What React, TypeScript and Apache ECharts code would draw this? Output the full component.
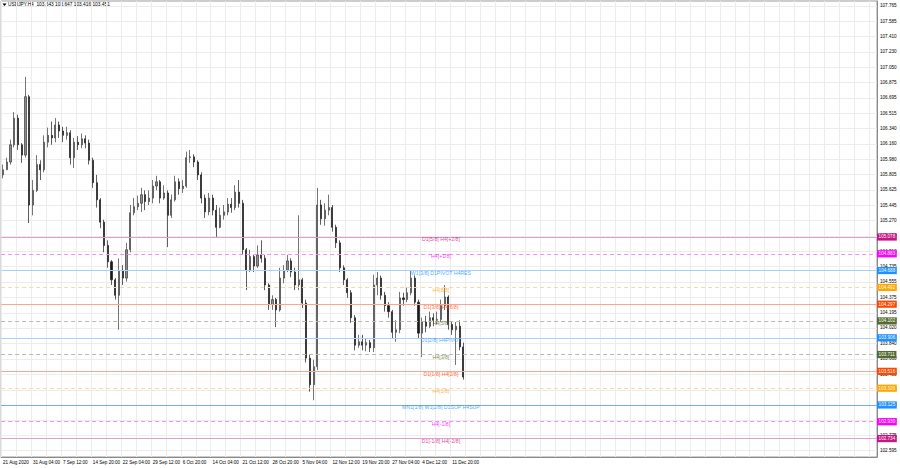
import React, { useEffect, useRef } from "react";
import * as echarts from "echarts";

const symbolTitle = "USDJPY,H4";
const lastBar = [103.643, 103.647, 103.416, 103.451];

const timeLabels = [
  "21 Aug 2020", "31 Aug 04:00", "7 Sep 12:00", "14 Sep 20:00", "22 Sep 04:00",
  "29 Sep 12:00", "6 Oct 20:00", "14 Oct 04:00", "21 Oct 12:00", "28 Oct 20:00",
  "5 Nov 04:00", "12 Nov 12:00", "19 Nov 20:00", "27 Nov 04:00", "4 Dec 12:00", "11 Dec 20:00",
];

const openP = [
  105.80, 105.86, 105.95, 106.15, 106.46, 106.15, 106.03, 106.71, 105.45, 105.62,
  105.92, 105.86, 106.18, 106.26, 106.23, 106.38, 106.31, 106.26, 106.29, 106.00,
  106.18, 106.15, 106.22, 106.17, 105.97, 105.71, 105.51, 105.25, 104.98, 104.79,
  104.58, 104.40, 104.69, 104.60, 104.93, 105.36, 105.43, 105.47, 105.57, 105.49,
  105.53, 105.67, 105.72, 105.53, 105.59, 105.33, 105.51, 105.72, 105.64, 105.67,
  106.00, 106.01, 105.95, 105.80, 105.53, 105.37, 105.53, 105.39, 105.19, 105.33,
  105.37, 105.46, 105.42, 105.60, 105.47, 104.93, 104.69, 104.85, 104.74, 104.87,
  104.83, 104.52, 104.29, 104.35, 104.23, 104.60, 104.69, 104.80, 104.67, 104.52,
  104.58, 104.31, 103.67, 103.36, 103.57, 105.45, 105.29, 105.39, 105.42, 105.19,
  105.01, 104.72, 104.58, 104.43, 104.14, 103.82, 103.86, 103.82, 103.85, 103.79,
  104.52, 104.60, 104.40, 104.28, 104.21, 103.97, 104.00, 104.37, 104.35, 104.43,
  104.60, 104.32, 103.96, 104.09, 104.04, 104.14, 104.11, 104.12, 104.28, 104.38,
  104.06, 104.00, 104.04, 103.80,
];
const closeP = [
  105.86, 105.95, 106.15, 106.46, 106.15, 106.03, 106.71, 105.45, 105.62, 105.92,
  105.86, 106.18, 106.26, 106.23, 106.38, 106.31, 106.26, 106.29, 106.00, 106.18,
  106.15, 106.22, 106.17, 105.97, 105.71, 105.51, 105.25, 104.98, 104.79, 104.58,
  104.40, 104.69, 104.60, 104.93, 105.36, 105.43, 105.47, 105.57, 105.49, 105.53,
  105.67, 105.72, 105.53, 105.59, 105.33, 105.51, 105.72, 105.64, 105.67, 106.00,
  106.01, 105.95, 105.80, 105.53, 105.37, 105.53, 105.39, 105.19, 105.33, 105.37,
  105.46, 105.42, 105.60, 105.47, 104.93, 104.69, 104.85, 104.74, 104.87, 104.83,
  104.52, 104.29, 104.35, 104.23, 104.60, 104.69, 104.80, 104.67, 104.52, 104.58,
  104.31, 103.67, 103.36, 103.57, 105.45, 105.29, 105.39, 105.42, 105.19, 105.01,
  104.72, 104.58, 104.43, 104.14, 103.82, 103.86, 103.82, 103.85, 103.79, 104.52,
  104.60, 104.40, 104.28, 104.21, 103.97, 104.00, 104.37, 104.35, 104.43, 104.60,
  104.32, 103.96, 104.09, 104.04, 104.14, 104.11, 104.12, 104.28, 104.38, 104.06,
  104.00, 104.04, 103.80, 103.45,
];
const lowP = [
  105.76, 105.86, 105.92, 106.12, 106.09, 105.94, 106.00, 105.24, 105.33, 105.60,
  105.74, 105.83, 106.12, 106.15, 106.18, 106.23, 106.18, 106.21, 105.92, 105.88,
  106.09, 106.11, 106.11, 105.92, 105.65, 105.42, 105.18, 104.90, 104.72, 104.52,
  104.35, 104.00, 104.52, 104.56, 104.90, 105.33, 105.39, 105.37, 105.39, 105.45,
  105.47, 105.62, 105.47, 105.51, 104.96, 105.30, 105.49, 105.57, 105.59, 105.65,
  105.94, 105.89, 105.74, 105.47, 105.30, 105.33, 105.33, 105.08, 105.18, 105.28,
  105.33, 105.36, 105.39, 105.42, 104.87, 104.46, 104.67, 104.67, 104.72, 104.78,
  104.46, 104.23, 104.23, 104.03, 104.21, 104.54, 104.67, 104.61, 104.46, 104.46,
  104.25, 103.62, 103.28, 103.18, 103.53, 105.22, 105.21, 105.33, 105.14, 104.95,
  104.67, 104.52, 104.37, 104.08, 103.76, 103.79, 103.76, 103.75, 103.74, 103.74,
  104.40, 104.35, 104.21, 104.14, 103.90, 103.86, 103.96, 104.28, 104.32, 104.40,
  104.28, 103.90, 103.68, 103.97, 104.02, 104.04, 104.06, 104.09, 104.23, 104.00,
  103.94, 103.59, 103.76, 103.42,
];
const highP = [
  105.92, 106.00, 106.21, 106.53, 106.50, 106.17, 106.94, 106.73, 105.74, 106.03,
  105.97, 106.26, 106.35, 106.42, 106.46, 106.42, 106.36, 106.36, 106.32, 106.23,
  106.25, 106.28, 106.26, 106.21, 106.00, 105.80, 105.53, 105.28, 105.04, 104.81,
  104.60, 104.83, 104.75, 105.01, 105.45, 105.53, 105.56, 105.65, 105.62, 105.62,
  105.74, 105.79, 105.74, 105.68, 105.62, 105.57, 105.79, 105.76, 105.74, 106.07,
  106.09, 106.04, 105.97, 105.83, 105.57, 105.59, 105.57, 105.45, 105.42, 105.45,
  105.53, 105.53, 105.68, 105.74, 105.51, 104.95, 104.93, 104.87, 104.98, 105.04,
  104.87, 104.54, 104.40, 104.37, 104.72, 104.75, 104.87, 104.83, 104.72, 105.33,
  104.60, 104.35, 103.71, 103.65, 105.65, 105.51, 105.47, 105.57, 105.45, 105.22,
  105.04, 104.75, 104.60, 104.46, 104.17, 103.94, 103.94, 103.90, 103.88, 104.64,
  104.67, 104.63, 104.44, 104.32, 104.23, 104.11, 104.44, 104.43, 104.49, 104.69,
  104.63, 104.35, 104.14, 104.16, 104.21, 104.19, 104.21, 104.35, 104.52, 104.40,
  104.09, 104.09, 104.11, 103.85,
];

const priceTicks = [
  107.765, 107.585, 107.41, 107.23, 107.05, 106.875, 106.695, 106.515, 106.34, 106.16,
  105.98, 105.805, 105.625, 105.445, 105.27, 105.09, 104.91, 104.735, 104.555, 104.375,
  104.195, 104.02, 103.84, 103.66, 103.48, 103.3, 103.125, 102.95, 102.775, 102.595,
];

const levelValues = [
  105.078, 104.883, 104.688, 104.492, 104.297, 104.102, 103.906,
  103.711, 103.516, 103.32, 103.125, 102.93, 102.734,
];
const levelNames = [
  "D1[5/8] H4[+2/8]", "H4[+1/8]", "W1[3/8] D1PIVOT H4RES", "H4[8/8]", "D1[3/8] H4[6/8]",
  "H4[5/8]", "D1[2/8] H4PIVOT", "H4[3/8]", "D1[1/8] H4[2/8]", "H4[1/8]",
  "MN1[1/8] W1[2/8] D1SUP H4SUP", "H4[-1/8]", "D1[-1/8] H4[-2/8]",
];
const levelColors = [
  "#c71585", "#ff00ff", "#1e90ff", "#ffa500", "#ff4500", "#556b2f", "#1e90ff",
  "#556b2f", "#ff4500", "#ffa500", "#1e90ff", "#ff00ff", "#c71585",
];
const levelLineColors = [
  "#e0a0cc", "#f090f0", "#a8d0f8", "#f8d8a8", "#f8a890", "#b8bca8", "#a8d0f8",
  "#b8bca8", "#f8a890", "#f8d8a8", "#70b0f0", "#f090f0", "#e0a0cc",
];
const levelDashed = [false, true, false, true, false, true, false, true, false, true, false, true, false];
const lastPrice = 103.451;

const TOTAL_SLOTS = 234;
const LABEL_EVERY = 8;
const LEVEL_TEXT_SLOT = 117;

export default function App() {
  const ref = useRef<HTMLDivElement>(null);

  useEffect(() => {
    if (!ref.current) return;
    const chart = echarts.init(ref.current, undefined, { renderer: "svg" });

    const categories: string[] = [];
    for (let i = 0; i < TOTAL_SLOTS; i++) {
      const k = i / LABEL_EVERY;
      categories.push(i % LABEL_EVERY === 0 && k < timeLabels.length ? timeLabels[k] : "s" + i);
    }
    const candles = openP.map((o, i) => [o, closeP[i], lowP[i], highP[i]]);

    const font = "Arial, 'Liberation Sans', sans-serif";

    const boxLabel = (text: string, bg: string) => ({
      show: true,
      position: "end",
      distance: 0,
      formatter: text,
      backgroundColor: bg,
      color: "#ffffff",
      fontSize: 4.6,
      fontFamily: font,
      padding: [1.2, 1.6, 1, 1.6],
    });

    const markData: any[] = levelValues.map((v, i) => ({
      yAxis: v,
      lineStyle: {
        color: levelLineColors[i],
        type: levelDashed[i] ? [4, 3] : "solid",
        width: 1,
        opacity: 1,
      },
      label: boxLabel(v.toFixed(3), levelColors[i]),
    }));
    markData.push({
      yAxis: lastPrice,
      lineStyle: { opacity: 0 },
      label: boxLabel(lastPrice.toFixed(3), "#000000"),
    });

    const option: any = {
      animation: false,
      backgroundColor: "#ffffff",
      grid: {
        left: 1,
        right: 23,
        top: 1,
        bottom: 11,
        show: true,
        borderColor: "#9a9a9a",
        borderWidth: 1,
      },
      xAxis: {
        type: "category",
        data: categories,
        boundaryGap: true,
        axisLine: { show: true, lineStyle: { color: "#8a8a8a", width: 1 } },
        axisTick: { show: false },
        axisLabel: {
          interval: (idx: number) => idx % LABEL_EVERY === 0 && idx / LABEL_EVERY < timeLabels.length,
          align: "left",
          fontSize: 4.6,
          fontFamily: font,
          color: "#000000",
          margin: 3,
        },
        splitLine: {
          show: true,
          interval: (idx: number) => idx % 4 === 0,
          lineStyle: { color: "#ececec", width: 1 },
        },
      },
      yAxis: {
        type: "value",
        position: "right",
        min: 102.52,
        max: 107.822,
        axisLine: { show: true, lineStyle: { color: "#8a8a8a", width: 1 } },
        axisTick: { show: false, customValues: priceTicks },
        axisLabel: {
          customValues: priceTicks,
          formatter: (v: number) => v.toFixed(3),
          fontSize: 4.6,
          fontFamily: font,
          color: "#000000",
          margin: 3,
        },
        splitLine: { show: true, lineStyle: { color: "#ececec", width: 1 } },
      },
      graphic: [
        {
          type: "polygon",
          shape: { points: [[2.5, 3.5], [6.5, 3.5], [4.5, 6]] },
          style: { fill: "#000000" },
        },
        {
          type: "text",
          left: 8,
          top: 2.3,
          style: {
            text: symbolTitle + "  " + lastBar.map((v) => v.toFixed(3)).join(" "),
            fontSize: 4.8,
            fontFamily: font,
            fill: "#000000",
          },
        },
      ],
      series: [
        {
          type: "candlestick",
          data: candles,
          barWidth: 1.6,
          itemStyle: {
            color: "#8c8c8c",
            color0: "#1a1a1a",
            borderColor: "#3a3a3a",
            borderColor0: "#1a1a1a",
            borderWidth: 0.7,
          },
          markLine: {
            silent: true,
            symbol: ["none", "none"],
            precision: 3,
            data: markData,
          },
        },
        {
          type: "scatter",
          symbolSize: 0,
          silent: true,
          data: levelValues.map((v, i) => ({
            value: [LEVEL_TEXT_SLOT, v],
            label: { color: levelColors[i] },
          })),
          label: {
            show: true,
            position: "inside",
            offset: [0, 2.5],
            formatter: (p: any) => levelNames[p.dataIndex],
            fontSize: 5.2,
            fontFamily: font,
          },
          z: 5,
        },
      ],
    };

    chart.setOption(option);
    return () => chart.dispose();
  }, []);

  return (
    <div
      ref={ref}
      style={{ position: "fixed", left: 0, top: 0, width: 900, height: 468, background: "#fff" }}
    />
  );
}
